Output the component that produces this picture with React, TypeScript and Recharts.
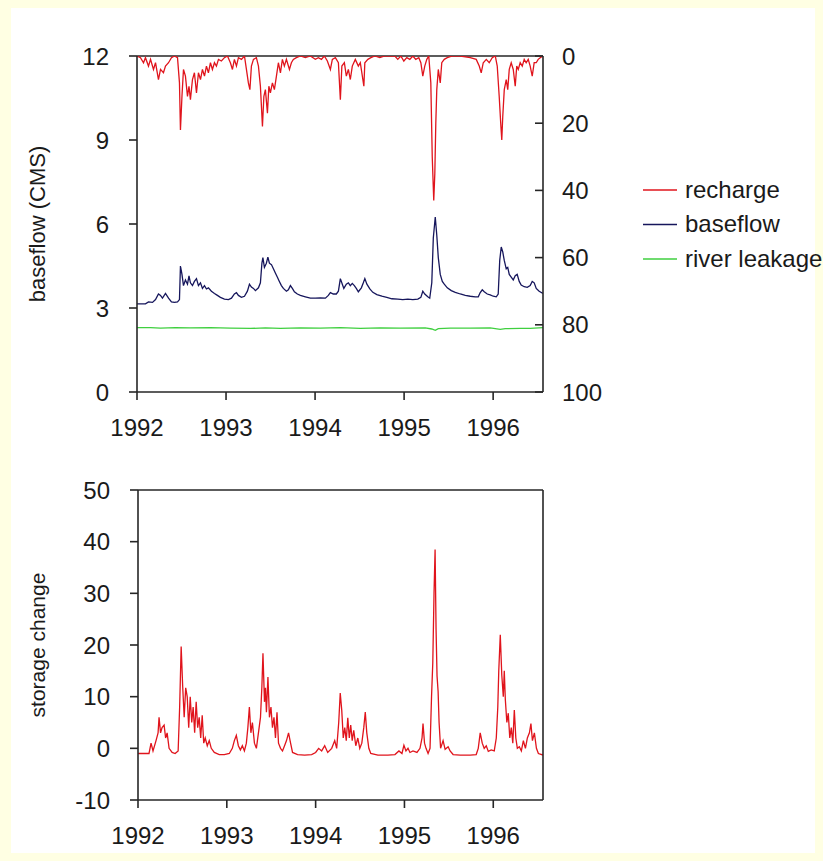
import React from 'react';
import { LineChart, Line, XAxis, YAxis, ReferenceLine, Legend } from 'recharts';

// ---- data: [decimal year, value] ----
const recharge: [number, number][] = [
  [1992.000, 0], [1992.039, 0.5], [1992.073, 2], [1992.095, 0.5], [1992.129, 3], [1992.152, 1], [1992.185, 4], [1992.208, 2],
  [1992.241, 7], [1992.264, 4], [1992.297, 5], [1992.320, 3], [1992.354, 2], [1992.387, 0.5], [1992.421, 0], [1992.455, 0.5],
  [1992.477, 8], [1992.488, 22], [1992.505, 12], [1992.522, 4], [1992.544, 6], [1992.567, 12], [1992.584, 9], [1992.600, 13],
  [1992.623, 7], [1992.645, 5], [1992.668, 11], [1992.690, 5], [1992.713, 7], [1992.735, 4], [1992.758, 6], [1992.780, 3],
  [1992.802, 5], [1992.825, 2], [1992.847, 4], [1992.870, 2], [1992.892, 3], [1992.915, 1], [1992.948, 1.5], [1992.982, 0.5],
  [1993.016, 0], [1993.049, 2], [1993.072, 4], [1993.094, 1], [1993.117, 3], [1993.139, 0.5], [1993.173, 1], [1993.207, 0],
  [1993.229, 4], [1993.251, 8], [1993.268, 10], [1993.285, 3], [1993.308, 1], [1993.341, 0.5], [1993.364, 3], [1993.386, 9],
  [1993.409, 21], [1993.425, 12], [1993.442, 10], [1993.465, 17], [1993.481, 9], [1993.498, 11], [1993.521, 8], [1993.543, 10],
  [1993.566, 6], [1993.588, 2], [1993.611, 5], [1993.633, 1], [1993.655, 3], [1993.678, 1], [1993.712, 4], [1993.734, 2],
  [1993.756, 1], [1993.790, 0.5], [1993.835, 0], [1993.891, 0.5], [1993.947, 0], [1994.003, 1], [1994.037, 0.5], [1994.071, 1],
  [1994.104, 0], [1994.138, 1.5], [1994.172, 4], [1994.194, 1], [1994.228, 0.5], [1994.262, 2], [1994.284, 13], [1994.301, 3],
  [1994.329, 2], [1994.351, 6], [1994.374, 4], [1994.396, 7], [1994.418, 3], [1994.452, 1], [1994.486, 3], [1994.508, 2],
  [1994.531, 6], [1994.548, 9], [1994.559, 2], [1994.593, 1], [1994.627, 0.5], [1994.671, 0], [1994.727, 0.5], [1994.783, 0],
  [1994.896, 0], [1994.929, 1], [1994.963, 0], [1994.997, 1.5], [1995.030, 0.5], [1995.064, 1], [1995.098, 0], [1995.131, 1],
  [1995.165, 0.5], [1995.188, 2], [1995.210, 6], [1995.232, 3], [1995.255, 1], [1995.277, 0], [1995.300, 8], [1995.316, 30],
  [1995.333, 43], [1995.345, 35], [1995.356, 20], [1995.367, 10], [1995.384, 4], [1995.406, 8], [1995.423, 2], [1995.451, 1],
  [1995.485, 0.5], [1995.541, 0], [1995.631, 0], [1995.743, 0.5], [1995.810, 1], [1995.844, 3], [1995.866, 5], [1995.889, 2],
  [1995.923, 1], [1995.956, 2], [1995.990, 0.5], [1996.024, 0], [1996.046, 3], [1996.068, 12], [1996.085, 20], [1996.097, 25],
  [1996.108, 18], [1996.125, 10], [1996.147, 7], [1996.164, 10], [1996.181, 4], [1996.203, 2], [1996.226, 4], [1996.248, 9],
  [1996.265, 3], [1996.282, 4], [1996.304, 2], [1996.327, 3], [1996.349, 1], [1996.371, 2], [1996.394, 1], [1996.416, 3],
  [1996.439, 6], [1996.461, 2], [1996.484, 2], [1996.506, 1], [1996.529, 0.5], [1996.560, 0],
];

const baseflow: [number, number][] = [
  [1992.000, 3.15], [1992.095, 3.15], [1992.129, 3.22], [1992.174, 3.2], [1992.208, 3.3], [1992.241, 3.5], [1992.264, 3.45],
  [1992.286, 3.35], [1992.320, 3.52], [1992.354, 3.35], [1992.387, 3.22], [1992.421, 3.2], [1992.455, 3.22], [1992.477, 3.3],
  [1992.488, 4.5], [1992.505, 4.2], [1992.522, 3.8], [1992.544, 4.0], [1992.567, 3.85], [1992.584, 4.15], [1992.600, 3.9],
  [1992.623, 3.8], [1992.645, 3.95], [1992.668, 4.05], [1992.690, 3.8], [1992.713, 3.9], [1992.735, 3.7], [1992.758, 3.8],
  [1992.780, 3.68], [1992.802, 3.72], [1992.836, 3.6], [1992.870, 3.52], [1992.903, 3.45], [1992.937, 3.38], [1992.982, 3.32],
  [1993.027, 3.3], [1993.061, 3.35], [1993.094, 3.5], [1993.117, 3.55], [1993.139, 3.45], [1993.173, 3.38], [1993.207, 3.42],
  [1993.240, 3.6], [1993.263, 3.85], [1993.285, 3.75], [1993.308, 3.7], [1993.330, 3.62], [1993.364, 3.72], [1993.386, 3.9],
  [1993.403, 4.6], [1993.414, 4.8], [1993.431, 4.45], [1993.453, 4.6], [1993.470, 4.82], [1993.487, 4.6], [1993.510, 4.55],
  [1993.532, 4.4], [1993.554, 4.25], [1993.577, 4.1], [1993.599, 3.95], [1993.622, 3.8], [1993.644, 3.7], [1993.678, 3.6],
  [1993.700, 3.65], [1993.723, 3.8], [1993.745, 3.7], [1993.768, 3.58], [1993.801, 3.5], [1993.835, 3.45], [1993.891, 3.4],
  [1993.947, 3.35], [1994.003, 3.35], [1994.059, 3.36], [1994.116, 3.35], [1994.149, 3.45], [1994.172, 3.55], [1994.205, 3.5],
  [1994.239, 3.5], [1994.262, 3.6], [1994.284, 4.05], [1994.306, 3.85], [1994.323, 3.7], [1994.351, 3.85], [1994.374, 3.9],
  [1994.396, 3.8], [1994.418, 3.88], [1994.441, 3.8], [1994.463, 3.7], [1994.486, 3.58], [1994.520, 3.72], [1994.542, 3.9],
  [1994.559, 4.05], [1994.582, 3.85], [1994.615, 3.68], [1994.649, 3.56], [1994.694, 3.48], [1994.750, 3.42], [1994.806, 3.38],
  [1994.862, 3.33], [1994.929, 3.32], [1994.985, 3.3], [1995.042, 3.32], [1995.098, 3.3], [1995.154, 3.32], [1995.188, 3.38],
  [1995.210, 3.6], [1995.232, 3.5], [1995.266, 3.4], [1995.288, 3.35], [1995.311, 3.9], [1995.328, 5.5], [1995.350, 6.25],
  [1995.367, 5.6], [1995.384, 4.8], [1995.406, 4.2], [1995.429, 3.95], [1995.451, 3.85], [1995.485, 3.72], [1995.530, 3.62],
  [1995.575, 3.56], [1995.631, 3.5], [1995.687, 3.45], [1995.743, 3.42], [1995.799, 3.4], [1995.833, 3.4], [1995.855, 3.55],
  [1995.878, 3.65], [1995.900, 3.58], [1995.934, 3.5], [1995.967, 3.47], [1996.001, 3.42], [1996.035, 3.4], [1996.057, 3.5],
  [1996.074, 4.7], [1996.091, 5.18], [1996.108, 5.0], [1996.125, 4.7], [1996.147, 4.4], [1996.164, 4.45], [1996.181, 4.2],
  [1996.203, 4.1], [1996.226, 4.0], [1996.248, 4.15], [1996.270, 4.2], [1996.293, 3.95], [1996.315, 3.82], [1996.349, 3.76],
  [1996.383, 3.74], [1996.416, 3.8], [1996.439, 3.95], [1996.461, 3.9], [1996.484, 3.7], [1996.517, 3.6], [1996.560, 3.52],
];

const riverLeakage: [number, number][] = [
  [1992.000, 2.3], [1992.152, 2.3], [1992.264, 2.28], [1992.432, 2.3], [1992.600, 2.29], [1992.825, 2.3], [1993.049, 2.28],
  [1993.274, 2.27], [1993.442, 2.29], [1993.611, 2.27], [1993.835, 2.29], [1994.059, 2.28], [1994.284, 2.3], [1994.508, 2.27],
  [1994.732, 2.29], [1994.956, 2.28], [1995.237, 2.29], [1995.311, 2.25], [1995.350, 2.2], [1995.384, 2.26], [1995.519, 2.28],
  [1995.743, 2.28], [1995.967, 2.29], [1996.080, 2.24], [1996.136, 2.26], [1996.304, 2.27], [1996.416, 2.27], [1996.560, 2.3],
];

const storageChange: [number, number][] = [
  [1992.000, -1], [1992.124, -1], [1992.147, 1], [1992.169, -0.5], [1992.203, 1.5], [1992.226, 3], [1992.237, 6], [1992.254, 3],
  [1992.271, 4], [1992.294, 4.5], [1992.311, 2], [1992.328, 3], [1992.350, 0], [1992.384, -0.8], [1992.418, -1], [1992.452, -0.5],
  [1992.469, 8], [1992.486, 19.7], [1992.503, 12], [1992.520, 6], [1992.537, 11.7], [1992.554, 10], [1992.571, 4], [1992.588, 10],
  [1992.605, 5], [1992.621, 8], [1992.638, 3], [1992.655, 9], [1992.672, 4], [1992.689, 6], [1992.706, 2], [1992.723, 6.4],
  [1992.740, 1], [1992.757, 2], [1992.780, 0.5], [1992.802, 1.5], [1992.825, 0], [1992.859, -0.8], [1992.915, -1.2], [1992.972, -1.2],
  [1993.028, -1], [1993.062, 0], [1993.085, 1.5], [1993.107, 2.5], [1993.130, 0.5], [1993.153, -0.3], [1993.175, 0.5], [1993.198, -0.5],
  [1993.220, 1], [1993.237, 4], [1993.254, 8], [1993.271, 3], [1993.288, 5], [1993.311, 1], [1993.333, 0], [1993.356, 3],
  [1993.379, 6], [1993.395, 12], [1993.407, 18.4], [1993.424, 9], [1993.435, 11.7], [1993.446, 7], [1993.463, 13.8], [1993.480, 6],
  [1993.497, 8], [1993.514, 4], [1993.531, 6], [1993.548, 2], [1993.565, 7], [1993.582, 1], [1993.605, 0], [1993.627, -0.5],
  [1993.650, 0.5], [1993.672, 1.5], [1993.695, 3], [1993.718, 1], [1993.740, -0.8], [1993.797, -1.2], [1993.876, -1.3], [1993.955, -1.2],
  [1994.000, -0.8], [1994.034, 0], [1994.068, -0.5], [1994.102, 0.5], [1994.136, -0.8], [1994.181, 0], [1994.215, 1.5], [1994.237, 0],
  [1994.260, 5], [1994.277, 10.7], [1994.294, 7.4], [1994.311, 2], [1994.328, 4], [1994.345, 1.5], [1994.362, 5.9], [1994.379, 2],
  [1994.395, 4.5], [1994.412, 1.5], [1994.429, 3.5], [1994.452, 0.5], [1994.475, 2], [1994.497, 0], [1994.520, 1], [1994.542, 4],
  [1994.559, 7], [1994.576, 3], [1994.599, 0], [1994.621, -1], [1994.701, -1.3], [1994.814, -1.3], [1994.893, -1.2], [1994.938, -0.5],
  [1994.972, -1], [1994.994, 0.6], [1995.017, -0.5], [1995.040, 0], [1995.062, -0.8], [1995.096, -0.5], [1995.141, -0.8], [1995.175, 0],
  [1995.198, 2], [1995.209, 4.8], [1995.226, 1], [1995.243, 0], [1995.266, -1], [1995.288, 0], [1995.305, 10], [1995.319, 16.5],
  [1995.333, 30], [1995.345, 38.5], [1995.356, 23], [1995.367, 14], [1995.379, 11], [1995.390, 5], [1995.407, 0], [1995.435, 1.5],
  [1995.458, -0.2], [1995.492, 0.3], [1995.514, -0.5], [1995.548, -1.2], [1995.627, -1.3], [1995.740, -1.3], [1995.808, -1.2], [1995.831, 0],
  [1995.853, 3], [1995.876, 1], [1995.898, 0], [1995.921, 0.5], [1995.944, -0.6], [1995.977, -0.3], [1996.011, -0.5], [1996.034, 2],
  [1996.051, 8], [1996.062, 15], [1996.079, 22], [1996.096, 14.2], [1996.113, 10], [1996.124, 15], [1996.136, 9.4], [1996.153, 5],
  [1996.169, 6.8], [1996.186, 2], [1996.203, 4], [1996.220, 1], [1996.237, 7.4], [1996.254, 2], [1996.271, 0], [1996.294, 0.3],
  [1996.316, -0.5], [1996.339, 1.5], [1996.362, 0], [1996.384, 2], [1996.407, 3], [1996.424, 4.8], [1996.441, 1.5], [1996.463, 3],
  [1996.486, 0], [1996.508, -1], [1996.560, -1.3],
];

const yearTicks = [1992, 1993, 1994, 1995, 1996];
const timeDomain: [number, number] = [1992, 1996.56];
const baseflowTicks = [0, 3, 6, 9, 12];
const rechargeTicks = [0, 20, 40, 60, 80, 100];
const storageTicks = [-10, 0, 10, 20, 30, 40, 50];
const legendOrder = ['recharge', 'baseflow', 'river leakage'];

const toRows = (pts: [number, number][]) => pts.map(([t, v]) => ({ t, v }));

const FONT = '"Liberation Sans", Arial, sans-serif';
const INK = '#1a1a1a';
const AXIS = '#262626';
const RED = '#e0141c';
const NAVY = '#16165c';
const GREEN = '#3fcf3f';

const tickStyle = { fill: INK, fontSize: 24, fontFamily: FONT };
const axisLine = { stroke: AXIS, strokeWidth: 1.6 };

function AxisTitle(props: any) {
  const { viewBox, text, size } = props;
  const cy = viewBox.y + viewBox.height / 2;
  const bx = 45;
  return (
    <text
      x={bx}
      y={cy}
      transform={`rotate(-90 ${bx} ${cy})`}
      textAnchor="middle"
      fontSize={size}
      fontFamily={FONT}
      fill={INK}
    >
      {text}
    </text>
  );
}

function SeriesKey(props: any) {
  const payload = [...(props.payload || [])].sort(
    (a: any, b: any) => legendOrder.indexOf(a.value) - legendOrder.indexOf(b.value),
  );
  return (
    <svg width={183} height={100} style={{ display: 'block' }}>
      {payload.map((item: any, i: number) => (
        <g key={item.value}>
          <line x1={3} x2={37} y1={18 + i * 34.5} y2={18 + i * 34.5} stroke={item.color} strokeWidth={1.3} />
          <text x={45} y={25.5 + i * 34.5} fontSize={24} fontFamily={FONT} fill={INK}>
            {item.value}
          </text>
        </g>
      ))}
    </svg>
  );
}

export default function App() {
  return (
    <div style={{ position: 'absolute', left: 0, top: 0, width: 823, height: 861, background: '#ffffe3' }}>
      <div style={{ position: 'absolute', left: 11, top: 8, width: 804, height: 845, background: '#ffffff' }} />

      <div style={{ position: 'absolute', left: 0, top: 0 }}>
        <LineChart width={823} height={450} margin={{ top: 56, right: 0, bottom: 0, left: 0 }}>
          <XAxis
            dataKey="t"
            type="number"
            domain={timeDomain}
            ticks={yearTicks}
            allowDataOverflow
            height={58}
            tickSize={8}
            tickMargin={19}
            tick={tickStyle}
            axisLine={axisLine}
            tickLine={axisLine}
            tickFormatter={(v: number) => String(v)}
          />
          <YAxis
            yAxisId="left"
            domain={[0, 12]}
            ticks={baseflowTicks}
            allowDataOverflow
            width={137}
            tickSize={8}
            tickMargin={20}
            tick={tickStyle}
            axisLine={axisLine}
            tickLine={axisLine}
            label={<AxisTitle text="baseflow (CMS)" size={22} />}
          />
          <YAxis
            yAxisId="right"
            orientation="right"
            reversed
            domain={[0, 100]}
            ticks={rechargeTicks}
            allowDataOverflow
            width={280}
            tickSize={-8}
            tickMargin={27}
            tick={tickStyle}
            axisLine={axisLine}
            tickLine={axisLine}
          />
          <ReferenceLine yAxisId="left" y={12} stroke={AXIS} strokeWidth={1.6} />
          <Line
            yAxisId="right"
            name="recharge"
            data={toRows(recharge)}
            dataKey="v"
            stroke={RED}
            strokeWidth={1.3}
            dot={false}
            isAnimationActive={false}
          />
          <Line
            yAxisId="left"
            name="baseflow"
            data={toRows(baseflow)}
            dataKey="v"
            stroke={NAVY}
            strokeWidth={1.3}
            dot={false}
            isAnimationActive={false}
          />
          <Line
            yAxisId="left"
            name="river leakage"
            data={toRows(riverLeakage)}
            dataKey="v"
            stroke={GREEN}
            strokeWidth={1.3}
            dot={false}
            isAnimationActive={false}
          />
          <Legend
            layout="vertical"
            align="center"
            verticalAlign="middle"
            content={<SeriesKey />}
            wrapperStyle={{ left: 640, top: 172, width: 183, height: 100 }}
          />
        </LineChart>
      </div>

      <div style={{ position: 'absolute', left: 0, top: 440 }}>
        <LineChart width={823} height={421} margin={{ top: 50, right: 0, bottom: 0, left: 0 }}>
          <XAxis
            dataKey="t"
            type="number"
            domain={timeDomain}
            ticks={yearTicks}
            allowDataOverflow
            height={61}
            tickSize={8}
            tickMargin={19}
            tick={tickStyle}
            axisLine={axisLine}
            tickLine={axisLine}
            tickFormatter={(v: number) => String(v)}
          />
          <YAxis
            domain={[-10, 50]}
            ticks={storageTicks}
            allowDataOverflow
            width={138}
            tickSize={8}
            tickMargin={20}
            tick={tickStyle}
            axisLine={axisLine}
            tickLine={axisLine}
            label={<AxisTitle text="storage change" size={21} />}
          />
          <YAxis
            yAxisId="frame"
            orientation="right"
            domain={[-10, 50]}
            width={280}
            tick={false}
            tickLine={false}
            axisLine={axisLine}
          />
          <ReferenceLine y={50} stroke={AXIS} strokeWidth={1.6} />
          <Line
            name="storage change"
            data={toRows(storageChange)}
            dataKey="v"
            stroke={RED}
            strokeWidth={1.3}
            dot={false}
            isAnimationActive={false}
          />
        </LineChart>
      </div>
    </div>
  );
}
